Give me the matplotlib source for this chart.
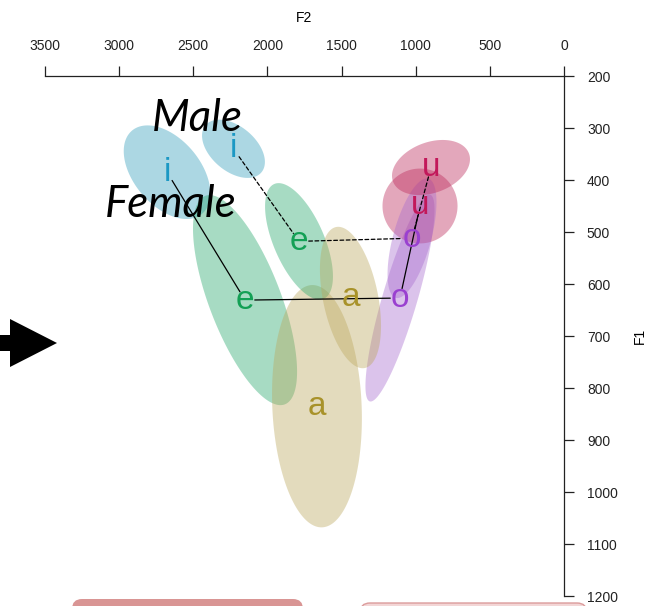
import numpy as np
import matplotlib
matplotlib.use("Agg")
import matplotlib.pyplot as plt
from matplotlib.patches import Polygon, FancyBboxPatch
from matplotlib.transforms import IdentityTransform

plt.rcParams['font.family'] = ['Liberation Sans', 'DejaVu Sans']

# Vowel means (Hz)
vowels = ['i', 'e', 'a', 'o', 'u']
female_f2 = [2677, 2151, 1666, 1106, 971]
female_f1 = [385, 631, 835, 627, 450]
male_f2 = [2229, 1787, 1440, 1025, 897]
male_f1 = [340, 518, 626, 512, 376]

# Spread of each vowel cloud (Hz) and F2/F1 correlation
female_sd_f2 = [292, 351, 303, 233, 253]
female_sd_f1 = [90, 202, 233, 199, 72]
female_r = [-0.45, -0.68, -0.1, 0.85, 0.0]
male_sd_f2 = [212, 229, 206, 165, 263]
male_sd_f1 = [56, 112, 136, 115, 53]
male_r = [-0.45, -0.6, -0.4, 0.6, 0.3]

# vowels joined by the trajectory lines
path_vowels = ['i', 'e', 'o', 'u']

fill_colors = ['#309dbb', '#25a76b', '#bba75c', '#a76bcf', '#bb2557']
text_colors = ['#1b98c4', '#13a055', '#a8922a', '#9a40d0', '#c2185a']

W, H = 664, 606
fig = plt.figure(figsize=(W / 100, H / 100), dpi=100)
ax = fig.add_axes([45 / W, 10 / H, 519 / W, 520 / H])


def ellipse_xy(cx, cy, sx, sy, r, n=200):
    t = np.linspace(0, 2 * np.pi, n)
    x = cx + sx * np.cos(t)
    y = cy + sy * (r * np.cos(t) + np.sqrt(1 - r ** 2) * np.sin(t))
    return np.column_stack([x, y])


def draw_group(f2, f1, sd2, sd1, rr, style):
    for k, v in enumerate(vowels):
        pts = ellipse_xy(f2[k], f1[k], sd2[k], sd1[k], rr[k])
        ax.add_patch(Polygon(pts, closed=True, facecolor=fill_colors[k],
                             edgecolor='none', alpha=0.4, zorder=1))
        ax.text(f2[k], f1[k], v, color=text_colors[k], fontsize=24,
                ha='center', va='center', zorder=4)
    idx = [vowels.index(v) for v in path_vowels]
    for a, b in zip(idx[:-1], idx[1:]):
        ax.annotate('', xy=(f2[b], f1[b]), xytext=(f2[a], f1[a]),
                    arrowprops=dict(arrowstyle='-', color='black', lw=0.9,
                                    linestyle=style, shrinkA=7, shrinkB=7),
                    zorder=3)


draw_group(female_f2, female_f1, female_sd_f2, female_sd_f1, female_r, '-')
draw_group(male_f2, male_f1, male_sd_f2, male_sd_f1, male_r, (0, (3, 2)))

ax.set_xlim(3500, 0)
ax.set_ylim(1200, 200)
ax.set_xticks(range(0, 3501, 500))
ax.set_yticks(range(200, 1201, 100))
ax.xaxis.tick_top()
ax.yaxis.tick_right()
ax.xaxis.set_label_position('top')
ax.yaxis.set_label_position('right')
ax.set_xlabel('F2', fontsize=10, labelpad=12)
ax.set_ylabel('F1', fontsize=10, labelpad=11)
ax.tick_params(direction='out', length=7.5, width=0.9, labelsize=10,
               pad=9, colors='#222222')
for s in ['left', 'bottom']:
    ax.spines[s].set_visible(False)
for s in ['top', 'right']:
    ax.spines[s].set_linewidth(0.9)
    ax.spines[s].set_color('#222222')
ax.patch.set_alpha(0)

# speaker group captions
fig.text(197 / W, 1 - 131 / H, 'Male', fontsize=31.5, style='italic',
         family=['Lato', 'DejaVu Sans'], ha='center', va='baseline')
fig.text(171 / W, 1 - 217 / H, 'Female', fontsize=31.5, style='italic',
         family=['Lato', 'DejaVu Sans'], ha='center', va='baseline')

# pointer arrow on the left edge
arrow = [(0, 335), (10, 335), (10, 319), (57, 343), (10, 367), (10, 351), (0, 351)]
fig.add_artist(Polygon([(x, H - y) for x, y in arrow], closed=True,
                       facecolor='black', edgecolor='none',
                       transform=IdentityTransform()))

# buttons peeking in at the bottom
fig.add_artist(FancyBboxPatch((72, -20), 231, H - 599 + 20,
                              boxstyle='round,pad=0,rounding_size=10',
                              facecolor='#d99594', edgecolor='none',
                              transform=IdentityTransform()))
fig.add_artist(FancyBboxPatch((360, -20), 227, H - 603 + 20,
                              boxstyle='round,pad=0,rounding_size=10',
                              facecolor='#f3d6d6', edgecolor='#dc9c9c', lw=1,
                              transform=IdentityTransform()))

fig.savefig('out.png', dpi=100)
